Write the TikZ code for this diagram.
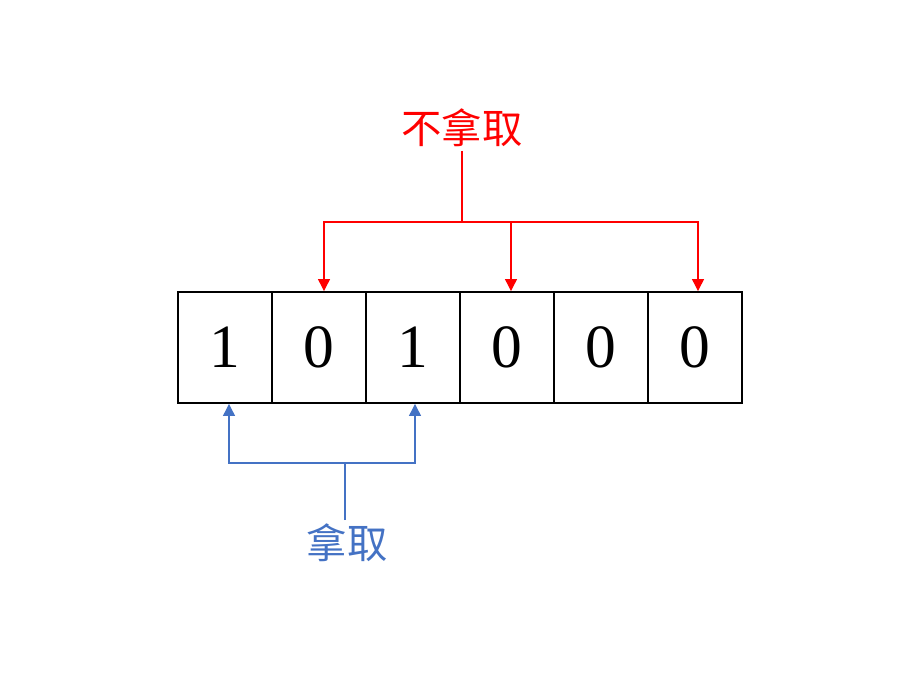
\documentclass[tikz,border=0pt]{standalone}
\usepackage{fontspec}
\setmainfont{Liberation Serif}
\newfontfamily\cjk{Noto Sans CJK SC}
\usetikzlibrary{arrows.meta,positioning,calc}

\definecolor{takeblue}{RGB}{68,114,196}

\begin{document}
\begin{tikzpicture}[
    x=0.02cm, y=-0.02cm,
    cell/.style={draw, line width=1.1pt, minimum width=1.88cm, minimum height=2.22cm, inner sep=0pt, font=\fontsize{35}{40}\selectfont},
    lbl/.style={font=\cjk\fontsize{23}{27}\selectfont, inner sep=2pt},
    redline/.style={draw=red, line width=0.7pt},
    redarr/.style={redline, -{Triangle[width=0.24cm,length=0.24cm]}},
    blueline/.style={draw=takeblue, line width=0.7pt},
    bluearr/.style={blueline, -{Triangle[width=0.24cm,length=0.24cm]}}
]
    \useasboundingbox (0,0) rectangle (912,699);

    % the six bits
    \node[cell] (c1) at (225,347.5) {1};
    \node[cell] (c2) at (319,347.5) {0};
    \node[cell] (c3) at (413,347.5) {1};
    \node[cell] (c4) at (507,347.5) {0};
    \node[cell] (c5) at (601,347.5) {0};
    \node[cell] (c6) at (695,347.5) {0};

    % not taken
    \node[lbl, text=red] (skip) at (462,128) {不拿取};
    \coordinate (rj) at (462,222);
    \draw[redline] (skip.south -| rj) -- (rj);
    \draw[redarr] (rj) -| ([xshift=0.1cm]c2.north);
    \draw[redarr] (rj) -| ([xshift=0.08cm]c4.north);
    \draw[redarr] (rj) -| ([xshift=0.06cm]c6.north);

    % taken
    \node[lbl, text=takeblue] (take) at (347,543) {拿取};
    \coordinate (bj) at (345,463);
    \draw[blueline] (take.north -| bj) -- (bj);
    \draw[bluearr] (bj) -| ([xshift=0.08cm]c1.south);
    \draw[bluearr] (bj) -| ([xshift=0.04cm]c3.south);
\end{tikzpicture}
\end{document}
